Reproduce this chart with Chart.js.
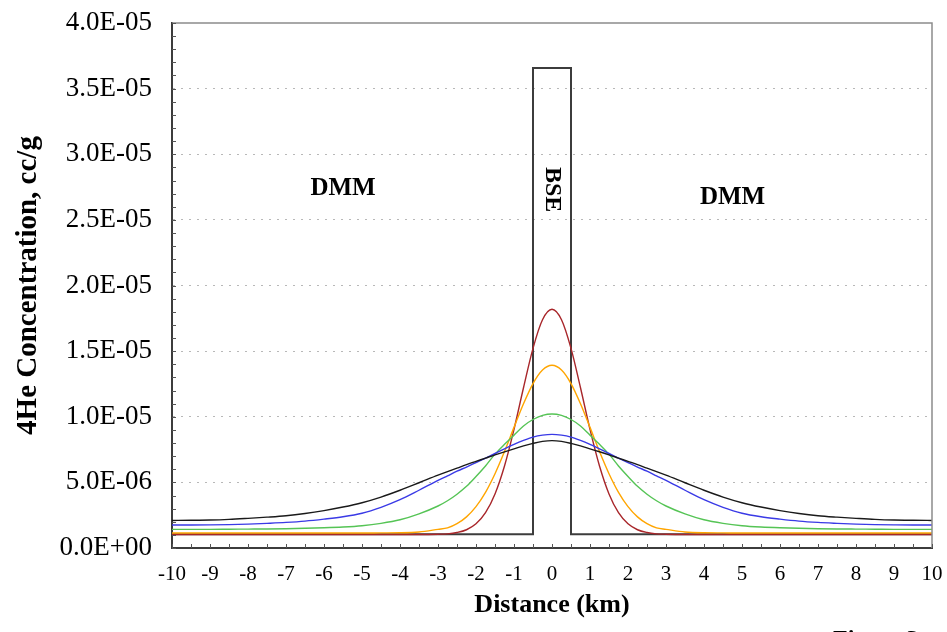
<!DOCTYPE html>
<html lang="en">
<head>
    <meta charset="UTF-8">
    <title>4He Concentration vs Distance</title>
    <script src="https://cdn.jsdelivr.net/npm/chart.js"></script>
    <style>
        html, body {
            margin: 0;
            padding: 0;
            background: #fff;
        }
        .chart-box {
            width: 947px;
            height: 632px;
        }
    </style>
</head>
<body>
    <div class="chart-box">
        <canvas id="heChart" width="947" height="632"></canvas>
    </div>

    <script>
        // Distance from the centre of the BSE slab (km)
        const distance = [-10, -9.5, -9, -8.5, -8, -7.5, -7, -6.5, -6, -5.5, -5, -4.5, -4, -3.5,
            -3, -2.75, -2.5, -2.25, -2, -1.75, -1.5, -1.25, -1, -0.75, -0.5, -0.25, 0,
            0.25, 0.5, 0.75, 1, 1.25, 1.5, 1.75, 2, 2.25, 2.5, 2.75, 3,
            3.5, 4, 4.5, 5, 5.5, 6, 6.5, 7, 7.5, 8, 8.5, 9, 9.5, 10];

        // 4He concentration, in units of 1E-06 cc/g
        const redCurve = [1.03, 1.03, 1.03, 1.03, 1.03, 1.03, 1.03, 1.03, 1.03, 1.03, 1.03, 1.03, 1.03, 1.03,
            1.05, 1.08, 1.18, 1.39, 1.84, 2.69, 4.12, 6.25, 9.04, 12.21, 15.21, 17.39, 18.19,
            17.39, 15.21, 12.21, 9.04, 6.25, 4.12, 2.69, 1.84, 1.39, 1.18, 1.08, 1.05,
            1.03, 1.03, 1.03, 1.03, 1.03, 1.03, 1.03, 1.03, 1.03, 1.03, 1.03, 1.03, 1.03, 1.03];
        const orangeCurve = [1.14, 1.14, 1.14, 1.14, 1.14, 1.14, 1.14, 1.14, 1.14, 1.14, 1.14, 1.15, 1.16, 1.22,
            1.42, 1.53, 1.85, 2.37, 3.15, 4.24, 5.66, 7.35, 9.19, 10.99, 12.53, 13.56, 13.92,
            13.56, 12.53, 10.99, 9.19, 7.35, 5.66, 4.24, 3.15, 2.37, 1.85, 1.53, 1.42,
            1.22, 1.16, 1.15, 1.14, 1.14, 1.14, 1.14, 1.14, 1.14, 1.14, 1.14, 1.14, 1.14, 1.14];
        const greenCurve = [1.42, 1.42, 1.42, 1.43, 1.44, 1.45, 1.47, 1.5, 1.54, 1.6, 1.7, 1.88, 2.15, 2.6,
            3.2, 3.6, 4.1, 4.7, 5.45, 6.25, 7.15, 7.9, 8.6, 9.3, 9.79, 10.1, 10.21,
            10.1, 9.79, 9.3, 8.6, 7.9, 7.15, 6.25, 5.45, 4.7, 4.1, 3.6, 3.2,
            2.6, 2.15, 1.88, 1.7, 1.6, 1.54, 1.5, 1.47, 1.45, 1.44, 1.43, 1.42, 1.42, 1.42];
        const blueCurve = [1.75, 1.75, 1.76, 1.78, 1.82, 1.88, 1.95, 2.05, 2.2, 2.38, 2.65, 3.1, 3.68, 4.4,
            5.15, 5.5, 5.85, 6.17, 6.5, 6.85, 7.2, 7.56, 7.9, 8.2, 8.45, 8.6, 8.66,
            8.6, 8.45, 8.2, 7.9, 7.56, 7.2, 6.85, 6.5, 6.17, 5.85, 5.5, 5.15,
            4.4, 3.68, 3.1, 2.65, 2.38, 2.2, 2.05, 1.95, 1.88, 1.82, 1.78, 1.76, 1.75, 1.75];
        const blackCurve = [2.1, 2.11, 2.13, 2.18, 2.26, 2.35, 2.46, 2.63, 2.85, 3.12, 3.45, 3.88, 4.4, 4.97,
            5.55, 5.82, 6.08, 6.35, 6.6, 6.85, 7.1, 7.33, 7.55, 7.78, 7.97, 8.12, 8.18,
            8.12, 7.97, 7.78, 7.55, 7.33, 7.1, 6.85, 6.6, 6.35, 6.08, 5.82, 5.55,
            4.97, 4.4, 3.88, 3.45, 3.12, 2.85, 2.63, 2.46, 2.35, 2.26, 2.18, 2.13, 2.11, 2.1];

        // Initial BSE slab (step profile)
        const boxX = [-10, -0.5, -0.5, 0.5, 0.5, 10];
        const boxY = [1.04, 1.04, 36.57, 36.57, 1.04, 1.04];

        const serif = '"Liberation Serif", "Times New Roman", serif';

        function toPoints(xs, ys) {
            return xs.map((x, i) => ({ x: x, y: ys[i] }));
        }

        // 35 (x1E-06) -> "3.5E-05"
        function sciLabel(v) {
            if (v === 0) return '0.0E+00';
            const val = v * 1e-6;
            const e = Math.floor(Math.log10(val) + 1e-9);
            const m = val / Math.pow(10, e);
            const ex = Math.abs(e) < 10 ? '0' + Math.abs(e) : String(Math.abs(e));
            return m.toFixed(1) + 'E' + (e < 0 ? '-' : '+') + ex;
        }

        // frame, inner tick marks and region labels
        const extras = {
            id: 'extras',
            afterDraw(chart) {
                const { ctx, chartArea: a, scales: { x, y } } = chart;
                ctx.save();

                ctx.strokeStyle = '#8c8c8c';
                ctx.lineWidth = 1.5;
                ctx.beginPath();
                ctx.moveTo(a.left, a.top);
                ctx.lineTo(a.right, a.top);
                ctx.lineTo(a.right, a.bottom);
                ctx.stroke();

                ctx.strokeStyle = '#555';
                ctx.lineWidth = 1;
                ctx.beginPath();
                for (let v = 0; v <= 40; v++) {
                    const py = Math.round(y.getPixelForValue(v)) + 0.5;
                    ctx.moveTo(a.left, py);
                    ctx.lineTo(a.left + 4, py);
                }
                for (let k = -20; k <= 20; k++) {
                    const px = Math.round(x.getPixelForValue(k / 2)) + 0.5;
                    ctx.moveTo(px, a.bottom);
                    ctx.lineTo(px, a.bottom - 4);
                }
                ctx.stroke();

                ctx.fillStyle = '#000';
                ctx.font = 'bold 25px ' + serif;
                ctx.textAlign = 'center';
                ctx.textBaseline = 'middle';
                ctx.fillText('DMM', x.getPixelForValue(-5.5), y.getPixelForValue(27.4));
                ctx.fillText('DMM', x.getPixelForValue(4.75), y.getPixelForValue(26.7));

                ctx.save();
                ctx.translate(x.getPixelForValue(0), y.getPixelForValue(27.3));
                ctx.rotate(Math.PI / 2);
                ctx.font = 'bold 24px ' + serif;
                ctx.fillText('BSE', 0, 0);
                ctx.restore();

                ctx.font = 'bold 24px ' + serif;
                ctx.textAlign = 'left';
                ctx.textBaseline = 'alphabetic';
                ctx.fillText('Figure 3', 833, 646);
                ctx.restore();
            }
        };

        const curveStyle = {
            pointRadius: 0,
            borderWidth: 1.4,
            fill: false,
            cubicInterpolationMode: 'monotone'
        };

        const ctx = document.getElementById('heChart').getContext('2d');
        const heChart = new Chart(ctx, {
            type: 'line',
            data: {
                datasets: [
                    Object.assign({ label: 'black', data: toPoints(distance, blackCurve), borderColor: '#1a1a1a' }, curveStyle),
                    Object.assign({ label: 'blue', data: toPoints(distance, blueCurve), borderColor: '#3a3ae6' }, curveStyle),
                    Object.assign({ label: 'green', data: toPoints(distance, greenCurve), borderColor: '#55c455' }, curveStyle),
                    Object.assign({ label: 'orange', data: toPoints(distance, orangeCurve), borderColor: '#ffa500' }, curveStyle),
                    Object.assign({ label: 'red', data: toPoints(distance, redCurve), borderColor: '#a8262a' }, curveStyle),
                    {
                        label: 'BSE slab',
                        data: toPoints(boxX, boxY),
                        borderColor: '#3c3c3c',
                        borderWidth: 2,
                        pointRadius: 0,
                        tension: 0,
                        fill: false
                    }
                ]
            },
            options: {
                responsive: false,
                animation: false,
                layout: {
                    padding: { top: 23, right: 15, left: 0, bottom: 0 }
                },
                plugins: {
                    legend: { display: false },
                    tooltip: { enabled: false }
                },
                scales: {
                    x: {
                        type: 'linear',
                        min: -10,
                        max: 10,
                        afterFit: (scale) => {
                            scale.height = 84;
                            scale.paddingLeft = 0;
                            scale.paddingRight = 0;
                        },
                        ticks: {
                            stepSize: 1,
                            autoSkip: false,
                            maxRotation: 0,
                            padding: 14,
                            color: '#000',
                            font: { family: serif, size: 21 }
                        },
                        grid: { display: false, drawTicks: false },
                        border: { display: true, color: '#3c3c3c', width: 2 },
                        title: {
                            display: true,
                            text: 'Distance (km)',
                            color: '#000',
                            padding: { bottom: 11, top: 0 },
                            font: { family: serif, size: 26, weight: 'bold' }
                        }
                    },
                    y: {
                        min: 0,
                        max: 40,
                        afterFit: (scale) => {
                            scale.width = 172;
                            scale.paddingTop = 0;
                            scale.paddingBottom = 0;
                        },
                        ticks: {
                            stepSize: 5,
                            padding: 20,
                            color: '#000',
                            font: { family: serif, size: 27 },
                            callback: (v) => sciLabel(v)
                        },
                        grid: {
                            drawTicks: false,
                            lineWidth: 1,
                            color: (c) => (c.tick && (c.tick.value === 0 || c.tick.value === 40)) ? 'rgba(0,0,0,0)' : '#b8b8b8'
                        },
                        border: { display: true, color: '#3c3c3c', width: 2, dash: [2, 6] },
                        title: {
                            display: true,
                            text: '4He Concentration, cc/g',
                            color: '#000',
                            padding: { top: 11, bottom: 0 },
                            font: { family: serif, size: 29, weight: 'bold' }
                        }
                    }
                }
            },
            plugins: [extras]
        });
    </script>
</body>
</html>
